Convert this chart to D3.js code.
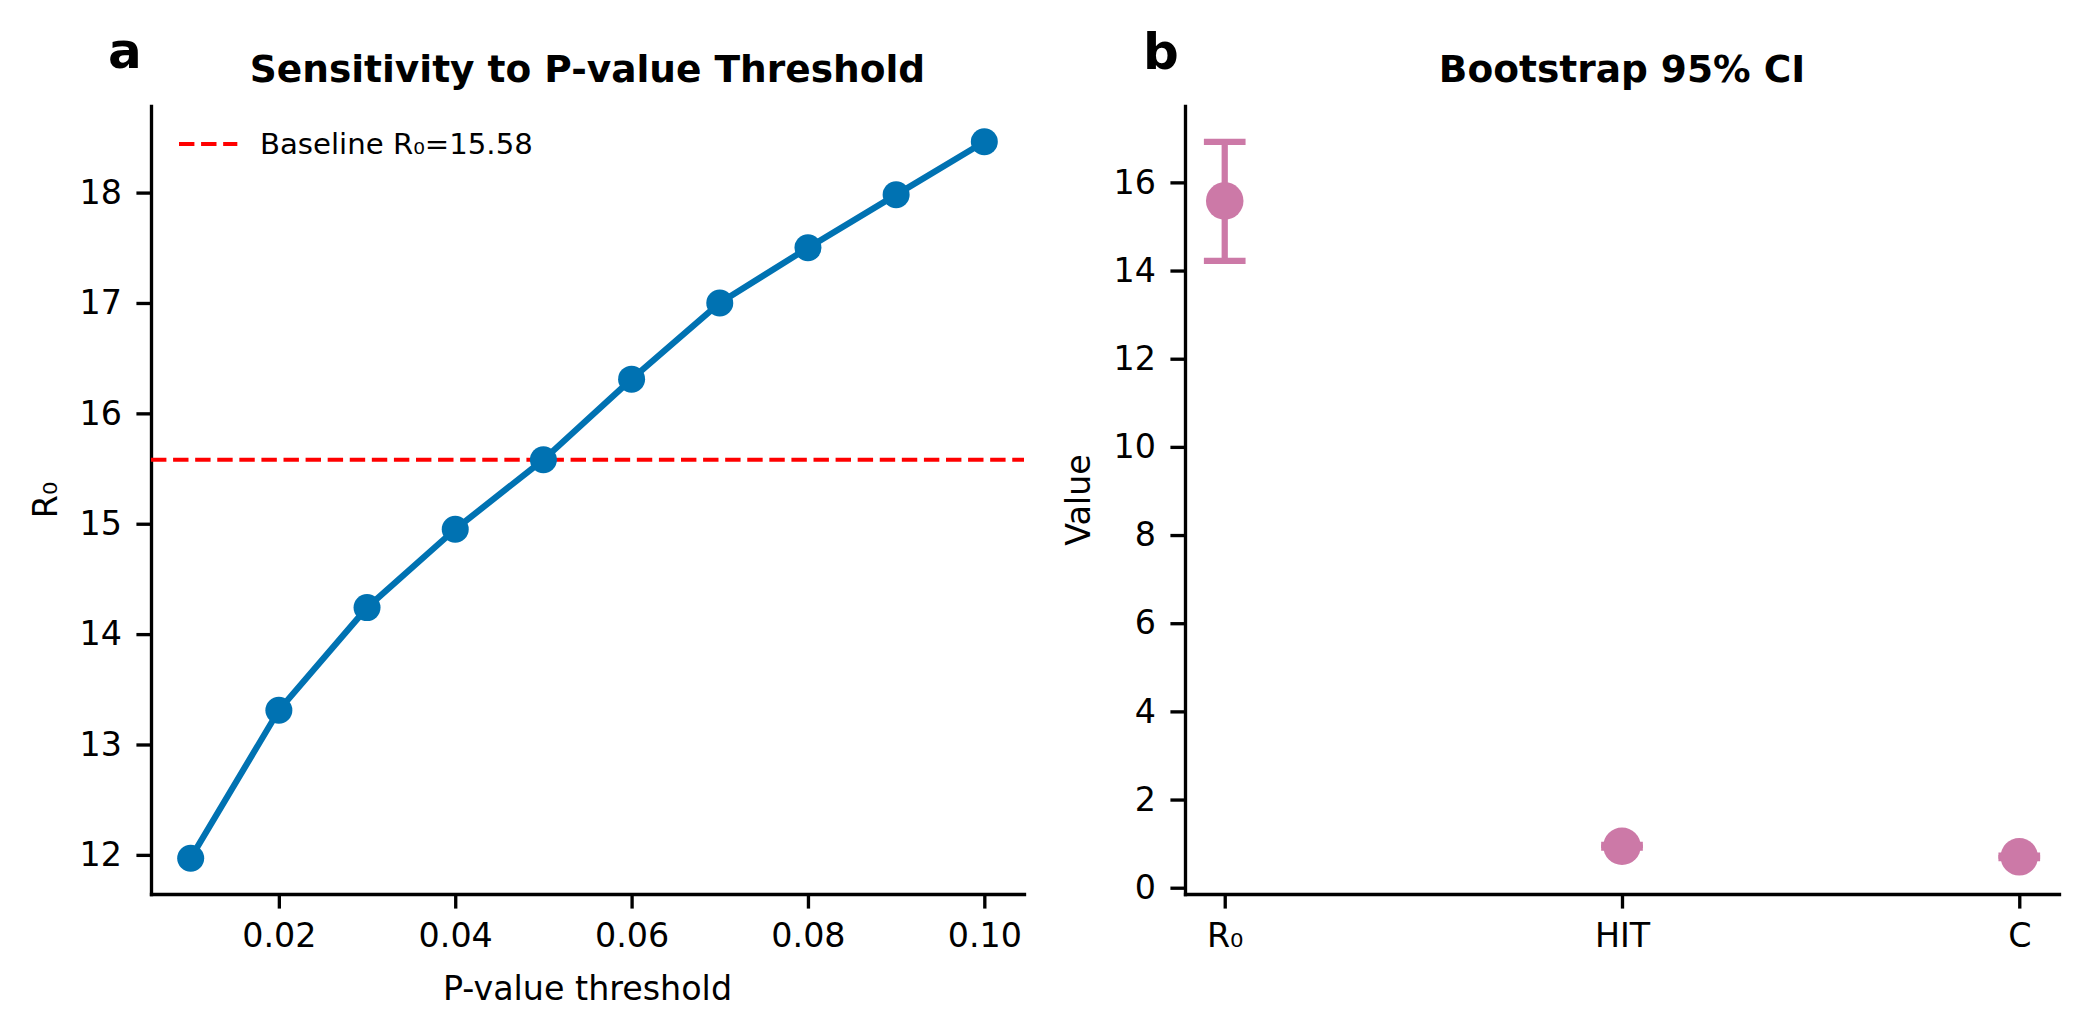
<!DOCTYPE html>
<html>
<head>
<meta charset="utf-8">
<script src="https://cdn.jsdelivr.net/npm/d3@7"></script>
<style>
  body { margin: 0; background: #fff; }
  text { font-family: "DejaVu Sans", sans-serif; }
</style>
</head>
<body>
<div id="chart"></div>
<script>
// panel a: sensitivity to p-value threshold
const thresholds = [0.01, 0.02, 0.03, 0.04, 0.05, 0.06, 0.07, 0.08, 0.09, 0.10];
const r0Values = [11.97, 13.31, 14.24, 14.95, 15.58, 16.31, 17.00, 17.50, 17.98, 18.46];
const baselineR0 = 15.58;
const xTicksA = [0.02, 0.04, 0.06, 0.08, 0.10];
const yTicksA = [12, 13, 14, 15, 16, 17, 18];

// panel b: bootstrap CI
const params = ["R₀", "HIT", "C"];
const estimates = [15.58, 0.94, 0.70];
const ciLow = [14.22, 0.91, 0.67];
const ciHigh = [16.92, 0.97, 0.73];
const yTicksB = [0, 2, 4, 6, 8, 10, 12, 14, 16];

const width = 2088, height = 1036;
const plotTop = 106, plotBottom = 894;
const pt = 300 / 72;          // figure was 300 dpi
const tickLen = 3.5 * pt, tickPad = 3.5 * pt;
const blue = "#0072B2", pink = "#CC79A7";

const svg = d3.select("#chart").append("svg")
    .attr("width", width)
    .attr("height", height)
    .attr("viewBox", `0 0 ${width} ${height}`);

svg.append("rect").attr("width", width).attr("height", height).attr("fill", "#fff");

// matplotlib-ish 5% padding
function pad(lo, hi) {
    const r = hi - lo;
    return [lo - 0.05 * r, hi + 0.05 * r];
}

function styleAxis(g) {
    g.attr("font-size", 8 * pt).attr("font-family", "DejaVu Sans");
    g.select(".domain").attr("stroke-width", 0.8 * pt).attr("stroke-linecap", "square");
    g.selectAll(".tick line").attr("stroke-width", 0.8 * pt);
    g.selectAll(".tick text").attr("fill", "#000");
}

// ---------- panel a ----------
const ax1 = { left: 151, right: 1024 };
const x1 = d3.scaleLinear()
    .domain(pad(d3.min(thresholds), d3.max(thresholds)))
    .range([ax1.left, ax1.right]);
const y1 = d3.scaleLinear()
    .domain(pad(d3.min(r0Values), d3.max(r0Values)))
    .range([plotBottom, plotTop]);

svg.append("g")
    .attr("transform", `translate(0,${plotBottom})`)
    .call(d3.axisBottom(x1).tickValues(xTicksA).tickFormat(d3.format(".2f"))
        .tickSize(tickLen).tickPadding(tickPad).tickSizeOuter(0))
    .call(styleAxis);

svg.append("g")
    .attr("transform", `translate(${ax1.left},0)`)
    .call(d3.axisLeft(y1).tickValues(yTicksA)
        .tickSize(tickLen).tickPadding(tickPad).tickSizeOuter(0))
    .call(styleAxis);

// baseline
svg.append("line")
    .attr("x1", ax1.left).attr("x2", ax1.right)
    .attr("y1", y1(baselineR0)).attr("y2", y1(baselineR0))
    .attr("stroke", "red")
    .attr("stroke-width", 1 * pt)
    .attr("stroke-dasharray", `${3.7 * pt},${1.6 * pt}`);

const ptsA = thresholds.map((t, i) => ({ x: t, y: r0Values[i] }));

svg.append("path")
    .datum(ptsA)
    .attr("fill", "none")
    .attr("stroke", blue)
    .attr("stroke-width", 1.5 * pt)
    .attr("stroke-linejoin", "round")
    .attr("d", d3.line().x(d => x1(d.x)).y(d => y1(d.y)));

svg.append("g").selectAll("circle")
    .data(ptsA)
    .join("circle")
    .attr("cx", d => x1(d.x))
    .attr("cy", d => y1(d.y))
    .attr("r", 13.5)
    .attr("fill", blue);

// legend
const lgY = 144;
svg.append("line")
    .attr("x1", 179).attr("x2", 179 + 14 * pt)
    .attr("y1", lgY).attr("y2", lgY)
    .attr("stroke", "red")
    .attr("stroke-width", 1 * pt)
    .attr("stroke-dasharray", `${3.7 * pt},${1.6 * pt}`);
svg.append("text")
    .attr("x", 260).attr("y", lgY + 10)
    .attr("font-size", 7 * pt)
    .text("Baseline R₀=" + baselineR0.toFixed(2));

svg.append("text")
    .attr("x", (ax1.left + ax1.right) / 2).attr("y", 82)
    .attr("text-anchor", "middle")
    .attr("font-size", 9 * pt).attr("font-weight", "bold")
    .text("Sensitivity to P-value Threshold");

svg.append("text")
    .attr("x", (ax1.left + ax1.right) / 2).attr("y", 1000)
    .attr("text-anchor", "middle")
    .attr("font-size", 8 * pt)
    .text("P-value threshold");

svg.append("text")
    .attr("transform", `translate(57,${(plotTop + plotBottom) / 2}) rotate(-90)`)
    .attr("text-anchor", "middle")
    .attr("font-size", 8 * pt)
    .text("R₀");

svg.append("text")
    .attr("x", 108).attr("y", 68)
    .attr("font-size", 12 * pt).attr("font-weight", "bold")
    .text("a");

// ---------- panel b ----------
const ax2 = { left: 1185, right: 2059 };
const idx = params.map((p, i) => i);
const x2 = d3.scaleLinear()
    .domain(pad(0, params.length - 1))
    .range([ax2.left, ax2.right]);
const y2 = d3.scaleLinear()
    .domain(pad(d3.min(ciLow), d3.max(ciHigh)))
    .range([plotBottom, plotTop]);

svg.append("g")
    .attr("transform", `translate(0,${plotBottom})`)
    .call(d3.axisBottom(x2).tickValues(idx).tickFormat(i => params[i])
        .tickSize(tickLen).tickPadding(tickPad).tickSizeOuter(0))
    .call(styleAxis);

svg.append("g")
    .attr("transform", `translate(${ax2.left},0)`)
    .call(d3.axisLeft(y2).tickValues(yTicksB)
        .tickSize(tickLen).tickPadding(tickPad).tickSizeOuter(0))
    .call(styleAxis);

const ptsB = params.map((p, i) => ({ i, v: estimates[i], lo: ciLow[i], hi: ciHigh[i] }));
const cap = 5 * pt;

const eb = svg.append("g")
    .attr("stroke", pink)
    .attr("stroke-width", 1.5 * pt);
eb.selectAll("line.v")
    .data(ptsB).join("line").attr("class", "v")
    .attr("x1", d => x2(d.i)).attr("x2", d => x2(d.i))
    .attr("y1", d => y2(d.lo)).attr("y2", d => y2(d.hi));
eb.selectAll("line.lo")
    .data(ptsB).join("line").attr("class", "lo")
    .attr("x1", d => x2(d.i) - cap).attr("x2", d => x2(d.i) + cap)
    .attr("y1", d => y2(d.lo)).attr("y2", d => y2(d.lo));
eb.selectAll("line.hi")
    .data(ptsB).join("line").attr("class", "hi")
    .attr("x1", d => x2(d.i) - cap).attr("x2", d => x2(d.i) + cap)
    .attr("y1", d => y2(d.hi)).attr("y2", d => y2(d.hi));

svg.append("g").selectAll("circle")
    .data(ptsB)
    .join("circle")
    .attr("cx", d => x2(d.i))
    .attr("cy", d => y2(d.v))
    .attr("r", 4.5 * pt)
    .attr("fill", pink);

svg.append("text")
    .attr("x", (ax2.left + ax2.right) / 2).attr("y", 82)
    .attr("text-anchor", "middle")
    .attr("font-size", 9 * pt).attr("font-weight", "bold")
    .text("Bootstrap 95% CI");

svg.append("text")
    .attr("transform", `translate(1090,${(plotTop + plotBottom) / 2}) rotate(-90)`)
    .attr("text-anchor", "middle")
    .attr("font-size", 8 * pt)
    .text("Value");

svg.append("text")
    .attr("x", 1143).attr("y", 69)
    .attr("font-size", 12 * pt).attr("font-weight", "bold")
    .text("b");
</script>
</body>
</html>
